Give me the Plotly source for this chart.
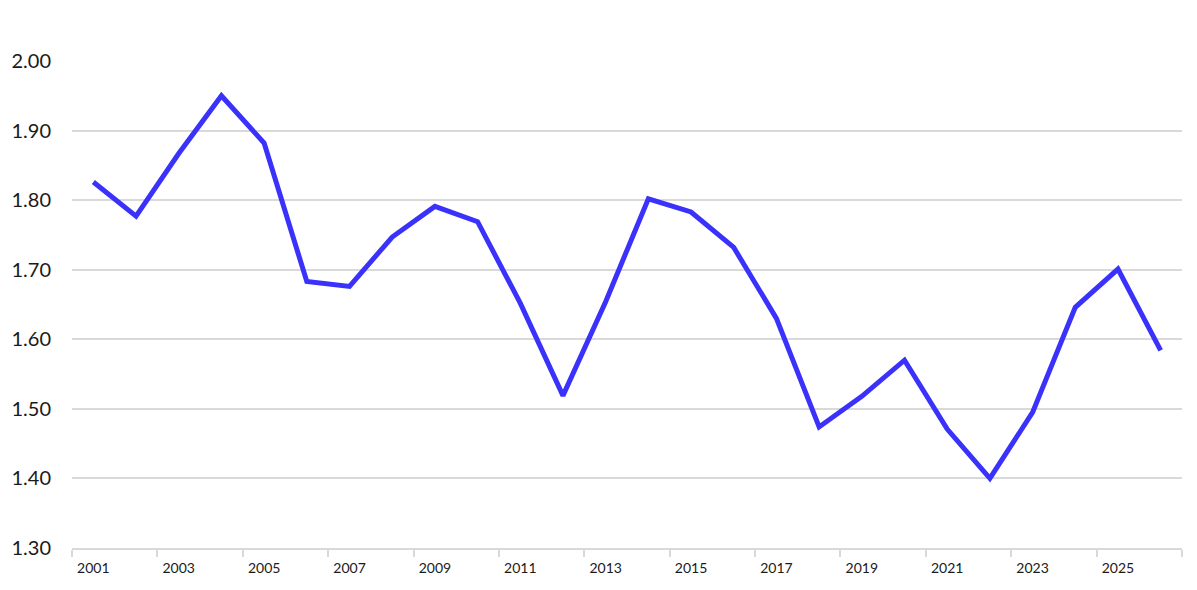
import plotly.graph_objects as go

years = list(range(2001, 2027))
values = [1.826, 1.777, 1.867, 1.950, 1.882, 1.683, 1.676, 1.747, 1.791, 1.769,
          1.652, 1.519, 1.654, 1.802, 1.783, 1.732, 1.630, 1.474, 1.518, 1.570,
          1.471, 1.400, 1.495, 1.646, 1.701, 1.584]
label_years = list(range(2001, 2027, 2))
tick_bounds = [y - 0.5 for y in range(2001, 2028, 2)]
y_ticks = [1.30, 1.40, 1.50, 1.60, 1.70, 1.80, 1.90, 2.00]

fig = go.Figure()
fig.add_trace(go.Scatter(
    x=years,
    y=values,
    mode='lines',
    line=dict(color='#3A32FA', width=5),
    showlegend=False,
    hoverinfo='x+y'
))

# page body adds 8px on each side, so the figure is 16px smaller than the window
fig.update_layout(
    width=1181, height=574,
    paper_bgcolor='white', plot_bgcolor='white',
    margin=dict(l=64, r=7, t=53, b=34, autoexpand=False),
    font=dict(family='Lato, Open Sans, sans-serif', color='#1a1a1a'),
    xaxis=dict(
        range=[2000.5, 2026.5],
        tickvals=label_years,
        ticktext=[str(y) for y in label_years],
        ticks='', showgrid=False, zeroline=False,
        showline=True, linecolor='#d9d9d9', linewidth=1.5,
        tickfont=dict(size=14, color='#1a1a1a'),
        ticklabelstandoff=6,
        automargin=False,
        minor=dict(tickmode='array', tickvals=tick_bounds, ticks='outside',
                   ticklen=7, tickcolor='#d9d9d9', tickwidth=1.5, showgrid=False),
    ),
    yaxis=dict(
        range=[1.30, 2.00],
        tickvals=y_ticks,
        tickformat='.2f',
        showgrid=True, gridcolor='#d9d9d9', gridwidth=1.5,
        zeroline=False, showline=False,
        tickfont=dict(size=20, color='#1a1a1a'),
        ticklabelstandoff=20,
        automargin=False,
    ),
)

fig.write_html("out.html")
